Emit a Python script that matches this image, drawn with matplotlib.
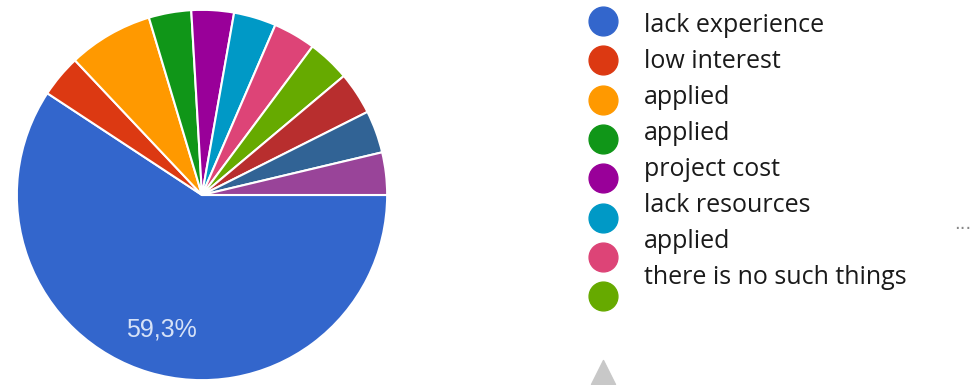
import matplotlib.pyplot as plt

# answers (27 responses)
counts = [16, 1, 2, 1, 1, 1, 1, 1, 1, 1, 1]
colors = ["#3366CC", "#DC3912", "#FF9900", "#109618", "#990099", "#0099C6",
          "#DD4477", "#66AA00", "#B82E2E", "#316395", "#994499"]
legend_labels = ["lack experience", "low interest", "applied", "applied",
                 "project cost", "lack resources", "applied",
                 "there is no such things"]
n_legend_dots = 8

fig = plt.figure(figsize=(9.79, 3.85), dpi=100)

# pie
ax = fig.add_axes([15 / 979, 3 / 385, 374 / 979, 374 / 385])

def pct(p):
    return f"{p:.1f}%".replace(".", ",") if p > 50 else ""

wedges, texts, autotexts = ax.pie(
    counts, colors=colors, startangle=0, counterclock=False,
    autopct=pct, pctdistance=0.76,
    wedgeprops=dict(edgecolor="white", linewidth=1.5),
    textprops=dict(color="#d6e2f7", fontsize=18, family="Liberation Sans"))
ax.set_xlim(-1.01, 1.01)
ax.set_ylim(-1.01, 1.01)
ax.set_aspect("equal")
ax.axis("off")

# legend drawn by hand (dots and labels do not line up in the original)
lg = fig.add_axes([0, 0, 1, 1])
lg.set_xlim(0, 979)
lg.set_ylim(385, 0)
lg.axis("off")
for i in range(n_legend_dots):
    lg.scatter(603, 21 + i * 39.3, s=430, color=colors[i], zorder=3)
for i, lab in enumerate(legend_labels):
    lg.text(644, 25 + i * 36, lab, fontsize=18, color="#1a1a1a",
            family="Open Sans", va="center", ha="left")
lg.scatter(603, 372, marker="^", s=300, color="#c8c8c8")
lg.text(963, 224, "...", fontsize=13, color="#888888", ha="center", va="center")

fig.savefig("out.png", dpi=100)
